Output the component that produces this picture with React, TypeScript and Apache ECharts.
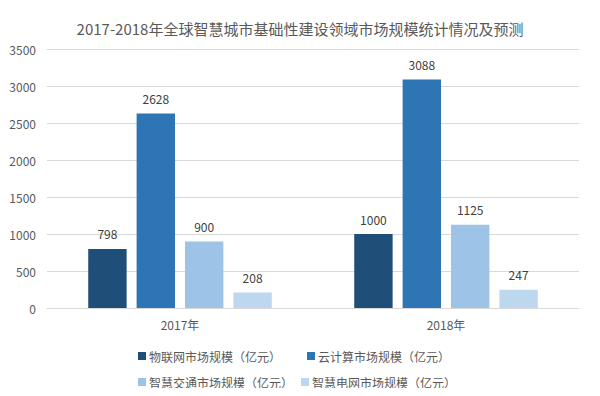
import React, { useEffect, useRef } from "react";
import * as echarts from "echarts";

const categories = ["2017年", "2018年"];
const seriesNames = [
  "物联网市场规模（亿元）",
  "云计算市场规模（亿元）",
  "智慧交通市场规模（亿元）",
  "智慧电网市场规模（亿元）",
];
const iotValues = [798, 1000];
const cloudValues = [2628, 3088];
const trafficValues = [900, 1125];
const gridValues = [208, 247];
const colors = ["#1F4E79", "#2E75B6", "#9DC3E6", "#BDD7EE"];

export default function App() {
  const ref = useRef<HTMLDivElement>(null);
  useEffect(() => {
    if (!ref.current) return;
    const chart = echarts.init(ref.current, undefined, { renderer: "svg" });
    const values = [iotValues, cloudValues, trafficValues, gridValues];
    const font = "'Microsoft YaHei', 'Noto Sans CJK SC', sans-serif";
    chart.setOption({
      animation: false,
      textStyle: { fontFamily: font },
      title: {
        text: "2017-2018年全球智慧城市基础性建设领域市场规模统计情况及预测",
        left: "center",
        top: 16,
        textStyle: { fontSize: 15, fontWeight: "normal", color: "#595959", fontFamily: font },
      },
      graphic: [
        {
          type: "rect",
          shape: { x: 0.5, y: 0.5, width: 592, height: 391 },
          style: { fill: "none", stroke: "#D9D9D9", lineWidth: 1 },
          silent: true,
        },
      ],
      legend: [
        {
          left: 133,
          top: 345,
          itemWidth: 8,
          itemHeight: 8,
          itemGap: 26,
          icon: "rect",
          data: [seriesNames[0], seriesNames[1]],
          textStyle: { fontSize: 12, color: "#595959", padding: [0, 0, 0, -2] },
        },
        {
          left: 133,
          top: 371,
          itemWidth: 8,
          itemHeight: 8,
          itemGap: 8,
          icon: "rect",
          data: [seriesNames[2], seriesNames[3]],
          textStyle: { fontSize: 12, color: "#595959", padding: [0, 0, 0, -2] },
        },
      ],
      grid: { left: 47, right: 21, top: 49, bottom: 88 },
      xAxis: {
        type: "category",
        data: categories,
        axisLine: { lineStyle: { color: "#D9D9D9" } },
        axisTick: { show: false },
        axisLabel: { color: "#595959", fontSize: 12, margin: 10 },
      },
      yAxis: {
        type: "value",
        min: 0,
        max: 3500,
        interval: 500,
        axisLine: { show: false },
        axisTick: { show: false },
        splitLine: { lineStyle: { color: "#D9D9D9" } },
        axisLabel: { color: "#595959", fontSize: 12, margin: 11, formatter: (v: number) => String(v) },
      },
      series: seriesNames.map((name, i) => ({
        name,
        type: "bar",
        data: values[i],
        barGap: "26%",
        barCategoryGap: "31%",
        itemStyle: { color: colors[i] },
        label: {
          show: true,
          position: "top",
          distance: 9,
          color: "#404040",
          fontSize: 12,
        },
      })),
    });
    return () => chart.dispose();
  }, []);
  return <div ref={ref} style={{ width: 600, height: 396, margin: -8 }} />;
}
